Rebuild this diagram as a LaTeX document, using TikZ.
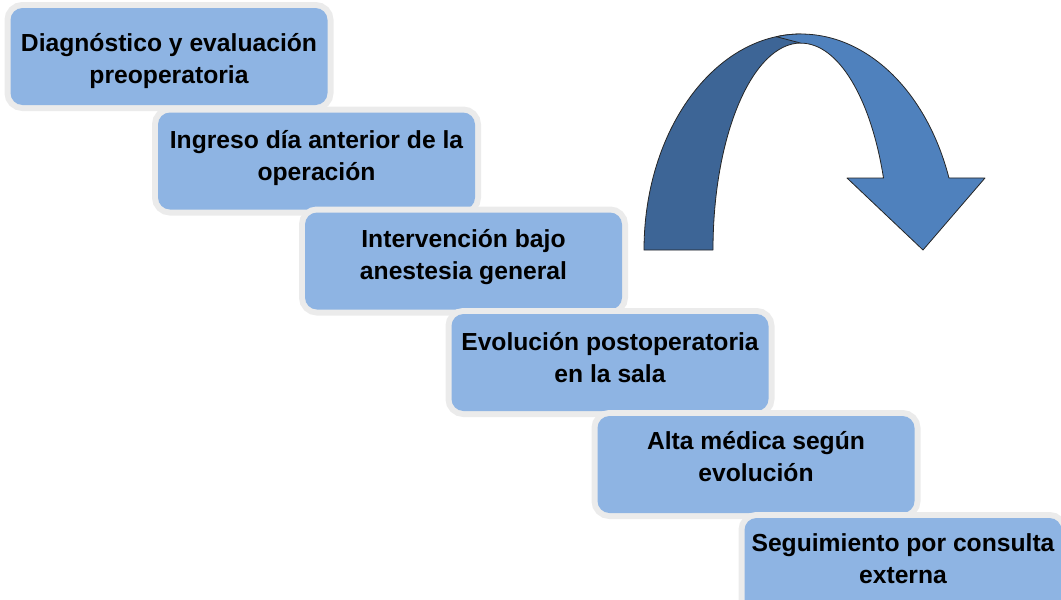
\documentclass[tikz,border=0pt]{standalone}
\usepackage{fontspec}
\setmainfont{Liberation Sans}
\usepackage{xcolor}

\definecolor{boxblue}{HTML}{8EB4E3}
\definecolor{halogray}{HTML}{EBEBEB}
\definecolor{arrowdark}{HTML}{3D6596}
\definecolor{arrowlight}{HTML}{4F81BD}

\tikzset{
  stepbox/.style={fill=boxblue, rounded corners=9pt, minimum width=237.75pt, minimum height=72.75pt,
    inner sep=0pt, align=center, font=\fontsize{18.5}{24}\selectfont\bfseries,
    text height=#1, text depth=0pt,
    preaction={draw=halogray, line width=9pt}},
  bandline/.style={draw=black!85, line width=0.6pt, line join=round}
}

\begin{document}
\begin{tikzpicture}[x=0.75pt,y=-0.75pt]
\useasboundingbox (0,0) rectangle (1061,600);

% steps
\node[stepbox=40pt] (diag)  at (169,56.5)  {Diagnóstico y evaluación\\preoperatoria};
\node[stepbox=29pt] (ingr)  at (316.5,161) {Ingreso día anterior de la\\operación};
\node[stepbox=28pt] (interv) at (463.5,261) {Intervención bajo\\anestesia general};
\node[stepbox=30pt] (evol)  at (610,362.5) {Evolución postoperatoria\\en la sala};
\node[stepbox=26pt] (alta)  at (756,464.5) {Alta médica según\\evolución};
\node[stepbox=25pt] (segu)  at (903,566.5) {Seguimiento por consulta\\externa};

% curved arrow, back band
\draw[bandline, fill=arrowdark] (644,250)
   arc[start angle=180, end angle=90, x radius=117.75pt, y radius=162pt]
   -- (801,43)
   arc[start angle=90, end angle=180, x radius=66pt, y radius=155.25pt]
   -- cycle;
% curved arrow, front band with head
\draw[bandline, fill=arrowlight] (776.4,36.7)
   arc[start angle=99, end angle=19.5, x radius=117.75pt, y radius=162pt]
   -- (985,178) -- (923,250) -- (847,178) -- (883.5,178)
   arc[start angle=20.4, end angle=90, x radius=66pt, y radius=155.25pt]
   -- cycle;
\end{tikzpicture}
\end{document}
